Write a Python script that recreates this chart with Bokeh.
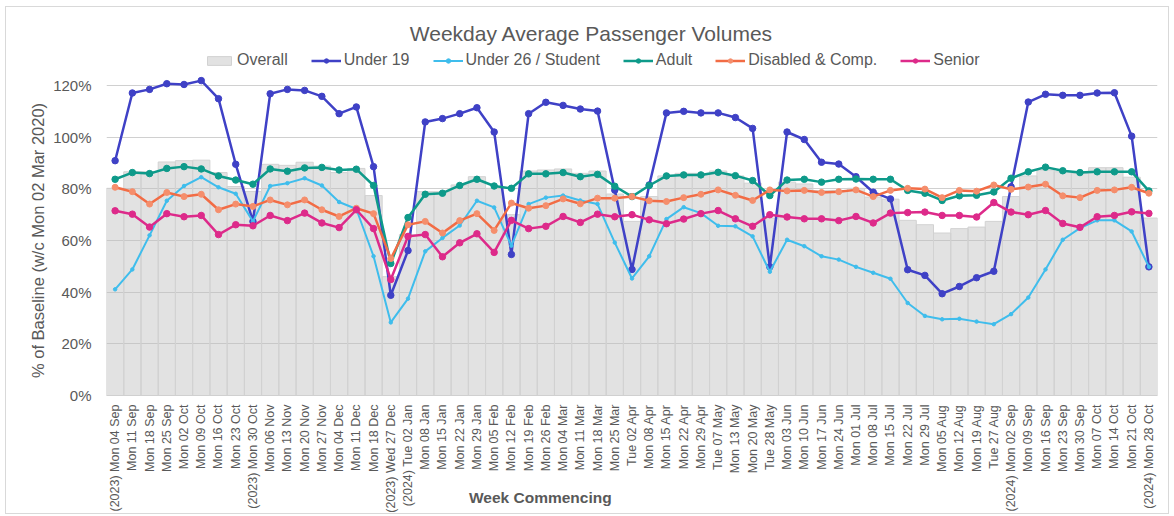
import math
from bokeh.plotting import figure
from bokeh.layouts import column
from bokeh.models import (ColumnDataSource, FactorRange, Range1d, FixedTicker,
                          PrintfTickFormatter, Legend, LegendItem, Label, Div)
from bokeh.embed import file_html
from bokeh.resources import INLINE

weeks = [
    "(2023) Mon 04 Sep", "Mon 11 Sep", "Mon 18 Sep", "Mon 25 Sep", "Mon 02 Oct",
    "Mon 09 Oct", "Mon 16 Oct", "Mon 23 Oct", "(2023) Mon 30 Oct", "Mon 06 Nov",
    "Mon 13 Nov", "Mon 20 Nov", "Mon 27 Nov", "Mon 04 Dec", "Mon 11 Dec",
    "Mon 18 Dec", "(2023) Wed 27 Dec", "(2024) Tue 02 Jan", "Mon 08 Jan", "Mon 15 Jan",
    "Mon 22 Jan", "Mon 29 Jan", "Mon 05 Feb", "Mon 12 Feb", "Mon 19 Feb",
    "Mon 26 Feb", "Mon 04 Mar", "Mon 11 Mar", "Mon 18 Mar", "Mon 25 Mar",
    "Tue 02 Apr", "Mon 08 Apr", "Mon 15 Apr", "Mon 22 Apr", "Mon 29 Apr",
    "Tue 07 May", "Mon 13 May", "Mon 20 May", "Tue 28 May", "Mon 03 Jun",
    "Mon 10 Jun", "Mon 17 Jun", "Mon 24 Jun", "Mon 01 Jul", "Mon 08 Jul",
    "Mon 15 Jul", "Mon 22 Jul", "Mon 29 Jul", "Mon 05 Aug", "Mon 12 Aug",
    "Mon 19 Aug", "Tue 27 Aug", "(2024) Mon 02 Sep", "Mon 09 Sep", "Mon 16 Sep",
    "Mon 23 Sep", "Mon 30 Sep", "Mon 07 Oct", "Mon 14 Oct", "Mon 21 Oct",
    "(2024) Mon 28 Oct",
]

overall = [80.2, 86.6, 86.6, 90.4, 90.9, 91.1, 86.3, 80.9, 79.0, 89.5,
           89.1, 90.3, 88.8, 86.3, 87.9, 77.4, 46.0, 62.3, 78.9, 78.9,
           81.5, 84.7, 80.2, 70.0, 86.9, 87.3, 87.7, 86.0, 86.9, 78.0,
           67.4, 77.0, 85.0, 86.0, 86.0, 86.9, 85.0, 82.2, 68.7, 82.6,
           81.9, 79.3, 79.4, 80.2, 76.8, 76.0, 67.8, 66.1, 62.9, 64.6,
           65.2, 67.4, 77.0, 85.0, 87.3, 86.6, 86.0, 88.2, 88.2, 84.5,
           68.7]

under19 = [90.9, 117.1, 118.5, 120.7, 120.4, 121.9, 114.9, 89.5, 67.4, 116.8,
           118.5, 118.1, 115.8, 109.1, 111.7, 88.6, 38.8, 56.1, 105.9, 107.2,
           109.1, 111.4, 102.0, 54.6, 109.1, 113.5, 112.3, 110.9, 110.1, 79.5,
           48.8, 81.5, 109.4, 110.0, 109.4, 109.4, 107.6, 103.4, 49.8, 102.0,
           99.1, 90.3, 89.6, 84.7, 78.7, 76.1, 48.7, 46.5, 39.4, 42.2,
           45.6, 48.1, 80.8, 113.6, 116.6, 116.2, 116.2, 117.1, 117.2, 100.4,
           49.8]

under26 = [41.1, 48.8, 62.0, 75.4, 81.1, 84.5, 80.6, 78.1, 67.4, 81.1,
           82.2, 84.1, 81.3, 74.9, 72.2, 53.9, 28.3, 37.5, 55.8, 61.0,
           65.8, 75.4, 72.8, 58.0, 74.1, 76.6, 77.4, 75.5, 74.1, 59.2,
           45.3, 53.9, 68.3, 72.9, 70.6, 65.7, 65.5, 61.6, 47.9, 60.3,
           57.8, 53.9, 52.6, 49.8, 47.5, 45.2, 35.8, 30.8, 29.5, 29.7,
           28.6, 27.6, 31.5, 37.9, 48.8, 60.3, 64.8, 67.8, 67.8, 63.5,
           49.8]

adult = [83.7, 86.3, 85.9, 87.9, 88.6, 87.7, 85.0, 83.4, 81.8, 87.7,
         86.8, 88.1, 88.3, 87.3, 87.6, 81.3, 51.1, 68.9, 77.9, 78.3,
         81.3, 83.7, 81.1, 80.2, 85.8, 85.8, 86.3, 84.7, 85.6, 81.0,
         77.0, 81.3, 85.0, 85.4, 85.4, 86.4, 85.1, 83.2, 77.4, 83.4,
         83.7, 82.6, 83.7, 83.8, 83.7, 83.7, 79.4, 78.3, 75.5, 77.3,
         77.5, 78.8, 84.1, 86.6, 88.4, 87.0, 86.3, 86.6, 86.6, 86.6,
         79.2]

disabled = [80.6, 78.9, 74.1, 78.6, 77.0, 77.9, 71.9, 74.1, 73.2, 75.7,
            73.8, 75.7, 71.9, 69.3, 72.5, 70.4, 53.0, 66.1, 67.4, 62.9,
            67.7, 70.4, 63.9, 74.5, 72.5, 73.5, 76.1, 74.2, 76.4, 76.4,
            77.0, 75.4, 75.1, 76.6, 77.9, 79.6, 77.5, 75.5, 79.6, 79.2,
            79.4, 78.6, 78.9, 79.6, 77.0, 79.4, 80.2, 79.9, 76.6, 79.4,
            79.1, 81.5, 79.8, 80.7, 81.8, 77.3, 76.6, 79.4, 79.6, 80.6,
            78.3]

senior = [71.5, 70.2, 65.2, 70.4, 69.2, 69.7, 62.3, 66.1, 65.7, 69.7,
          67.7, 70.6, 66.8, 65.0, 71.9, 64.6, 44.9, 61.6, 62.3, 53.7,
          59.1, 62.6, 55.4, 67.8, 64.6, 65.5, 69.3, 67.0, 70.2, 69.2,
          70.0, 68.0, 66.5, 68.3, 70.4, 71.6, 68.4, 65.5, 70.0, 69.1,
          68.4, 68.4, 67.7, 69.3, 66.8, 70.6, 70.8, 71.0, 69.7, 69.7,
          69.1, 74.7, 71.0, 70.0, 71.6, 66.6, 65.1, 69.2, 69.7, 71.1,
          70.5]

y_ticks = [0, 20, 40, 60, 80, 100, 120]

FONT = "Liberation Sans"
TXT = "#595959"

src = ColumnDataSource(dict(week=weeks, overall=overall, under19=under19,
                            under26=under26, adult=adult, disabled=disabled,
                            senior=senior))

# frame spans the full height above the x axis; the band above 120% holds
# the title and the legend, as in the reference
p = figure(x_range=FactorRange(*weeks, range_padding=0), y_range=Range1d(0, 150.2),
           width=1164, height=508, output_backend="svg", toolbar_location=None,
           title_location=None, margin=(6, 0, 0, 5),
           min_border_left=100, min_border_right=13, min_border_top=0,
           min_border_bottom=118)
p.outline_line_color = None
p.background_fill_color = "white"
p.styles = {"border": "1px solid #d9d9d9"}

bars = p.vbar(x="week", top="overall", width=1.0, source=src,
              fill_color="#bfbfbf", fill_alpha=0.45,
              line_color="#d2d2d2", line_width=1)

series = [
    ("Under 19", "under19", "#3f41c6", "#3f41c6", 2.5, 6.5),
    ("Under 26 / Student", "under26", "#3fbdec", "#3fbdec", 2.0, 3.5),
    ("Adult", "adult", "#0e9a8a", "#0e9a8a", 2.5, 6.5),
    ("Disabled & Comp.", "disabled", "#f26c45", "#f58e6c", 2.5, 6.0),
    ("Senior", "senior", "#dd2a8a", "#dd2a8a", 2.5, 6.5),
]

items = [LegendItem(label="Overall", renderers=[bars])]
for name, col, lc, mc, lw, ms in series:
    ln = p.line(x="week", y=col, source=src, line_color=lc, line_width=lw,
                line_join="round")
    sc = p.scatter(x="week", y=col, source=src, marker="circle", size=ms,
                   fill_color=mc, line_color=mc)
    items.append(LegendItem(label=name, renderers=[ln, sc]))

legend = Legend(items=items, orientation="horizontal", location=(98, 326),
                label_text_font=FONT, label_text_font_size="16px",
                label_text_color=TXT, glyph_width=30, glyph_height=11,
                label_standoff=3, spacing=23, padding=0, margin=0,
                border_line_color=None, background_fill_alpha=0)
p.add_layout(legend, "center")

p.add_layout(Label(x=485, y=362, x_units="screen", y_units="screen",
                   text="Weekday Average Passenger Volumes", text_align="center",
                   text_baseline="middle", text_font=FONT,
                   text_font_size="21px", text_color=TXT))

p.ygrid.ticker = FixedTicker(ticks=y_ticks)
p.ygrid.grid_line_color = "#d0d0d0"
p.ygrid.grid_line_width = 1
p.xgrid.grid_line_color = None

p.yaxis.ticker = FixedTicker(ticks=y_ticks)
p.yaxis.formatter = PrintfTickFormatter(format="%d%%")
p.yaxis.axis_line_color = None
p.yaxis.major_tick_line_color = None
p.yaxis.minor_tick_line_color = None
p.yaxis.major_label_standoff = 9
p.yaxis.major_label_text_font = FONT
p.yaxis.major_label_text_font_size = "15px"
p.yaxis.major_label_text_color = TXT
# trailing no-break spaces centre the visible text on the 0-120% band
p.yaxis.axis_label = "% of Baseline (w/c Mon 02 Mar 2020)" + "\u00a0" * 17
p.yaxis.axis_label_text_font = FONT
p.yaxis.axis_label_text_font_size = "16.5px"
p.yaxis.axis_label_text_font_style = "normal"
p.yaxis.axis_label_text_color = TXT
p.yaxis.axis_label_standoff = 3

p.xaxis.major_label_orientation = math.pi / 2
p.xaxis.axis_line_color = "#d0d0d0"
p.xaxis.major_tick_line_color = None
p.xaxis.minor_tick_line_color = None
p.xaxis.major_label_standoff = 3
p.xaxis.major_label_text_font = FONT
p.xaxis.major_label_text_font_size = "12.5px"
p.xaxis.major_label_text_color = TXT

xlabel = Div(text="Week Commencing", width=200, height=20,
             margin=(-26, 0, 0, 469),
             styles={"font-family": FONT, "font-size": "15.5px",
                     "font-weight": "bold", "color": TXT,
                     "line-height": "20px", "z-index": "10"})

layout = column(p, xlabel, spacing=0)

open("out.html", "w").write(file_html(layout, INLINE))
